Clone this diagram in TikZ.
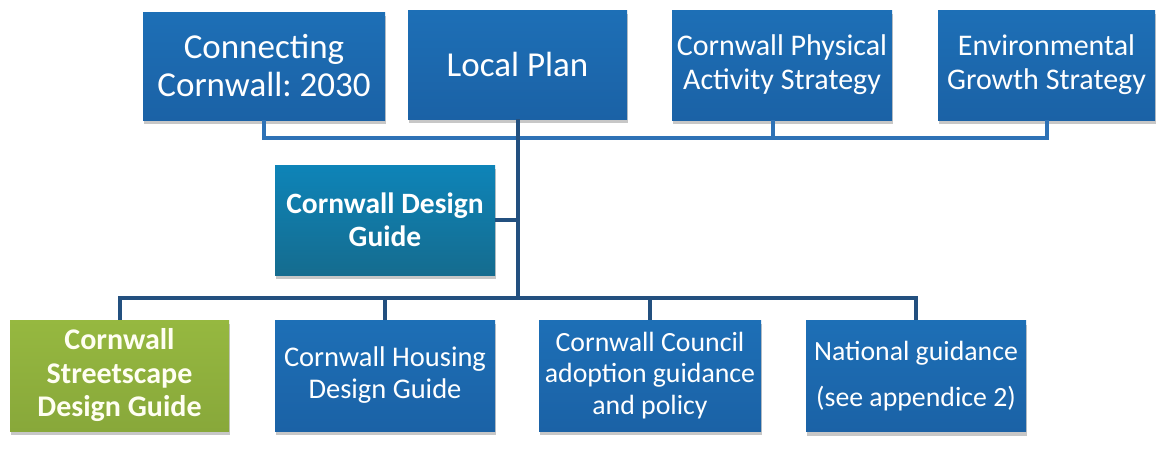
\documentclass[tikz,border=0pt]{standalone}
\usepackage{fontspec}
\setmainfont{Carlito}
\usetikzlibrary{shadows}
\definecolor{boxblue}{HTML}{1D6FB6}
\definecolor{boxbluedk}{HTML}{1B62A6}
\definecolor{tealtop}{HTML}{0E84B8}
\definecolor{tealbot}{HTML}{156C8F}
\definecolor{greentop}{HTML}{96B840}
\definecolor{greenbot}{HTML}{88A83A}
\definecolor{topline}{HTML}{2E72B6}
\definecolor{darkline}{HTML}{23507F}
\tikzset{
  box/.style={rectangle, inner sep=0pt, align=center, text=white,
    top color=boxblue, bottom color=boxbluedk,
    drop shadow={shadow xshift=1pt, shadow yshift=-4pt, opacity=0.22, fill=black}},
  tealbox/.style={box, top color=tealtop, bottom color=tealbot},
  greenbox/.style={box, top color=greentop, bottom color=greenbot, text=white!95!yellow},
  upline/.style={draw=topline, line width=4pt},
  lowline/.style={draw=darkline, line width=4pt},
}
\frenchspacing
\begin{document}
\begin{tikzpicture}[x=1pt,y=-1pt]
\useasboundingbox[fill=white] (0,0) rectangle (1157,466);
% top row
\node[box, minimum width=242pt, minimum height=108pt, font=\fontsize{35}{38}\selectfont] (b1) at (264,66) {Connecting\\Cornwall: 2030};
\node[box, minimum width=219pt, minimum height=109pt, font=\fontsize{35}{38}\selectfont] (b2) at (517.5,64.5) {Local Plan};
\node[box, minimum width=220pt, minimum height=110pt, font=\fontsize{30}{34}\selectfont] (b3) at (782,65) {Cornwall Physical\\Activity Strategy};
\node[box, minimum width=217pt, minimum height=110pt, font=\fontsize{30}{34}\selectfont] (b4) at (1046.5,65) {Environmental\\Growth Strategy};
% middle
\node[tealbox, minimum width=220pt, minimum height=110pt, font=\bfseries\fontsize{29.5}{33}\selectfont] (dg) at (385,220) {Cornwall Design\\Guide};
% bottom row
\node[greenbox, minimum width=219pt, minimum height=111pt, font=\bfseries\fontsize{30}{33.5}\selectfont] (s) at (119.5,375.5) {Cornwall\\Streetscape\\Design Guide};
\node[box, minimum width=220pt, minimum height=111pt, font=\fontsize{28.5}{32}\selectfont] (h) at (385,375.5) {Cornwall Housing\\Design Guide};
\node[box, minimum width=222pt, minimum height=111pt, font=\fontsize{27.8}{31.5}\selectfont] (c) at (650,375.5) {Cornwall Council\\adoption guidance\\and policy};
\node[box, minimum width=220pt, minimum height=111pt, font=\fontsize{27.8}{46}\selectfont] (n) at (916,376) {National guidance\\(see appendice 2)};
% coordinates
\coordinate (tb) at (0,138);
\coordinate (lb) at (0,298);
\coordinate (b3c) at (773,120);
% top connectors
\draw[upline] (b1.south) -- (b1.south |- tb) -- (b4.south |- tb) -- (b4.south);
\draw[upline] (b3c) -- (b3c |- tb);
% trunk
\draw[lowline] (b2.south) -- (b2.south |- lb);
\draw[lowline] (dg.east) -- (dg.east -| b2.south);
% lower bar
\draw[lowline] (s.north) -- (s.north |- lb) -- (n.north |- lb) -- (n.north);
\draw[lowline] (h.north) -- (h.north |- lb);
\draw[lowline] (c.north) -- (c.north |- lb);
\end{tikzpicture}
\end{document}
